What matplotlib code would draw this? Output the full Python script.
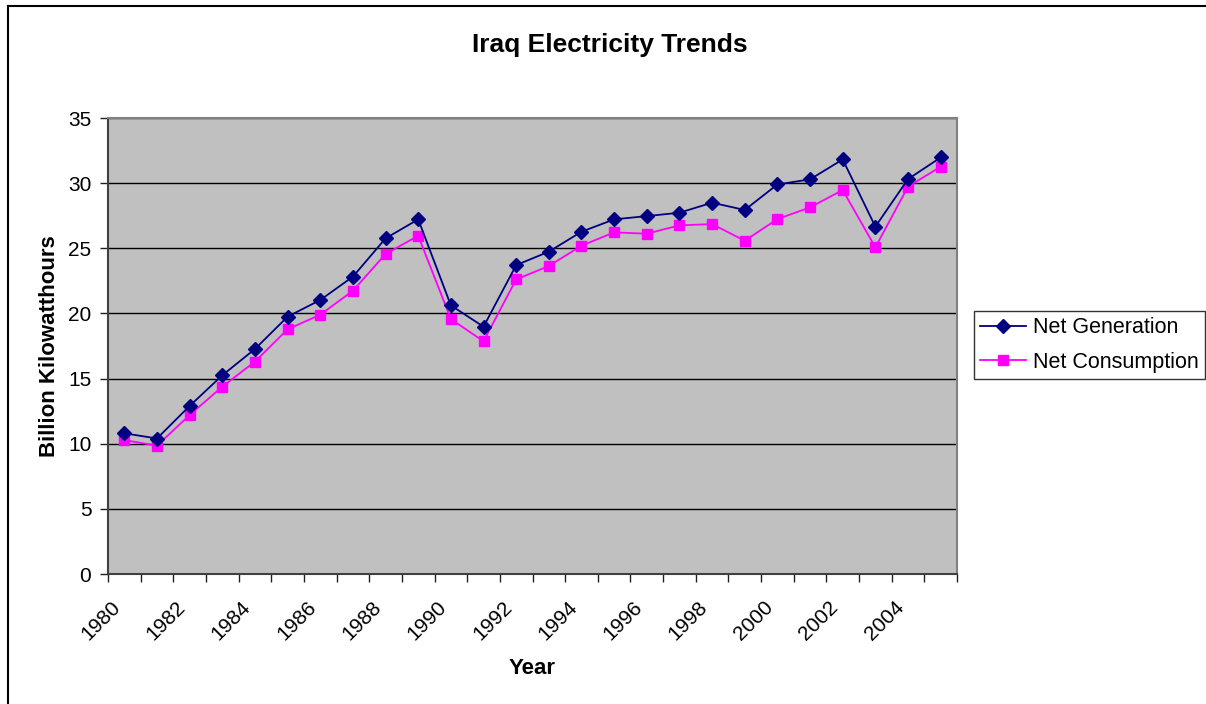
import matplotlib
matplotlib.use("Agg")
import matplotlib.pyplot as plt
from matplotlib.lines import Line2D
from matplotlib.ticker import FixedLocator, NullFormatter
from matplotlib.transforms import ScaledTranslation

plt.rcParams['font.family'] = ['Liberation Sans', 'DejaVu Sans']

years = list(range(1980, 2006))
net_generation = [10.8, 10.4, 12.9, 15.25, 17.27, 19.75, 21.03, 22.82, 25.76, 27.22,
                  20.62, 18.98, 23.71, 24.74, 26.27, 27.22, 27.47, 27.73, 28.5, 27.94,
                  29.9, 30.29, 31.82, 26.66, 30.31, 31.97]
net_consumption = [10.28, 9.85, 12.2, 14.38, 16.3, 18.78, 19.9, 21.74, 24.56, 25.96,
                   19.57, 17.86, 22.61, 23.64, 25.2, 26.22, 26.12, 26.76, 26.86, 25.58,
                   27.24, 28.14, 29.47, 25.07, 29.73, 31.26]
yticks = [0, 5, 10, 15, 20, 25, 30, 35]

W, H = 1206, 704
fig = plt.figure(figsize=(W / 100, H / 100), dpi=100)
ax = fig.add_axes([108 / W, 1 - 574 / H, (957 - 108) / W, (574 - 118) / H])
ax.set_facecolor('#C0C0C0')

idx = list(range(len(years)))
ax.plot(idx, net_generation, color='#000080', marker='D', markersize=7,
        linewidth=1.3, label='Net Generation', zorder=4)
ax.plot(idx, net_consumption, color='#FF00FF', marker='s', markersize=7.5,
        linewidth=1.3, label='Net Consumption', zorder=3)

ax.set_xlim(-0.5, len(years) - 0.5)
ax.set_ylim(0, 35)
ax.set_yticks(yticks)
ax.yaxis.grid(True, color='black', linewidth=1.0)
ax.set_axisbelow(True)

major = [i for i, y in enumerate(years) if y % 2 == 0]
ax.set_xticks(major)
ax.set_xticklabels([str(years[i]) for i in major], rotation=45, ha='right',
                   rotation_mode='anchor', fontsize=15)
ax.xaxis.set_minor_locator(FixedLocator([i - 0.5 for i in range(len(years) + 1)]))
ax.xaxis.set_minor_formatter(NullFormatter())
ax.tick_params(axis='x', which='major', length=0, pad=22)
ax.tick_params(axis='x', which='minor', length=6, width=1, color='#202020')
ax.tick_params(axis='y', length=6, width=1, labelsize=15, pad=6, color='#202020')
offset = ScaledTranslation(-14 / 100, 7 / 100, fig.dpi_scale_trans)
for lbl in ax.get_xticklabels():
    lbl.set_transform(lbl.get_transform() + offset)

for side in ['left', 'bottom']:
    ax.spines[side].set_color('#404040')
    ax.spines[side].set_linewidth(1.5)
for side in ['top', 'right']:
    ax.spines[side].set_color('#808080')
    ax.spines[side].set_linewidth(1.5)

ax.set_xlabel('Year', fontsize=16, fontweight='bold', labelpad=10)
ax.set_ylabel('Billion Kilowatthours', fontsize=16, fontweight='bold', labelpad=6)
fig.text(610 / W, 1 - 45 / H, 'Iraq Electricity Trends', fontsize=19,
         fontweight='bold', ha='center', va='center')

leg = fig.legend(loc='upper left', bbox_to_anchor=(974 / W, 1 - 311 / H),
                 fontsize=15.5, frameon=True, fancybox=False, edgecolor='black',
                 borderpad=0.3, handlelength=2.1, labelspacing=0.62,
                 handletextpad=0.35, borderaxespad=0)
leg.get_frame().set_linewidth(1.0)

fig.add_artist(Line2D([8 / W, 8 / W], [0, 1 - 6 / H], color='black', linewidth=1.5,
                      transform=fig.transFigure))
fig.add_artist(Line2D([8 / W, 1], [1 - 6 / H, 1 - 6 / H], color='black', linewidth=1.5,
                      transform=fig.transFigure))

fig.savefig('out.png', dpi=100)
